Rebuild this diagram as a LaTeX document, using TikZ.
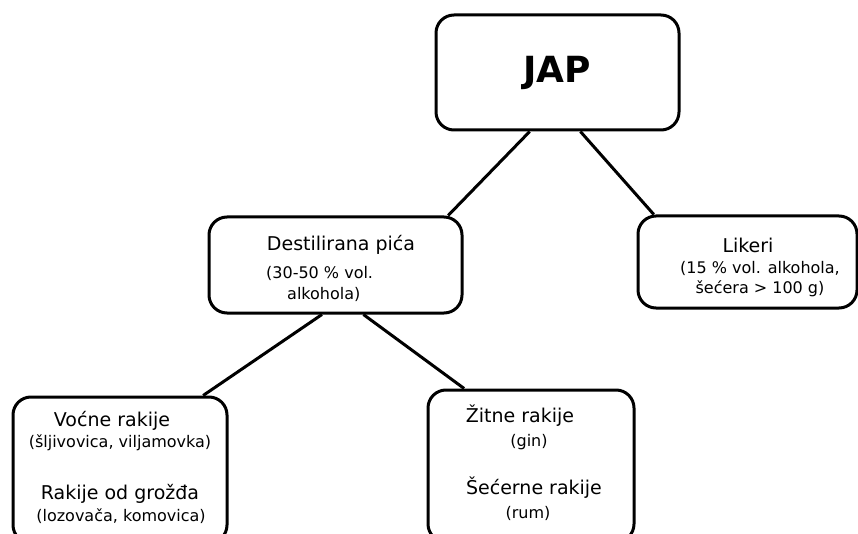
\documentclass[tikz,border=0pt]{standalone}
\usepackage{fontspec}
\setmainfont{DejaVu Sans}
\usetikzlibrary{calc}
\tikzset{
  box/.style={draw, line width=3pt, rounded corners=18pt, minimum width=#1, inner sep=0pt},
  maintxt/.style={font=\fontsize{19}{22}\selectfont, inner sep=0pt},
  subtxt/.style={font=\fontsize{16}{19}\selectfont, inner sep=0pt},
  link/.style={line width=3pt}
}
\begin{document}
\begin{tikzpicture}[x=1pt,y=-1pt]
\useasboundingbox (0,0) rectangle (858,534);
\clip (0,0) rectangle (858,534);
% boxes
\node[box=243pt, minimum height=115pt] (jap) at (557.5,72.5) {};
\node[box=253pt, minimum height=96pt] (dest) at (335.5,265) {};
\node[box=219pt, minimum height=92pt] (lik) at (747.5,262) {};
\node[box=214pt, minimum height=146pt] (voc) at (120,470) {};
\node[box=206pt, minimum height=152pt] (zit) at (531,466) {};
% texts
\node[inner sep=0pt, font=\fontsize{36}{40}\selectfont\bfseries] (japt) at (557,73) {JAP};
\node[maintxt] (destt) at (341,245) {Destilirana pića};
\node[subtxt, anchor=west] (dest2) at (266,273) {(30-50 \% vol.};
\node[subtxt, anchor=west] (dest3) at (287,294) {alkohola)};
\node[maintxt] (likt) at (748,245) {Likeri};
\node[subtxt] (lik2) at (760,268) {(15 \% vol. alkohola,};
\node[subtxt] (lik3) at (760,289) {šećera > 100 g)};
\node[maintxt] (voct) at (112,421) {Voćne rakije};
\node[subtxt] (voc2) at (120,443) {(šljivovica, viljamovka)};
\node[maintxt] (voc3) at (120,494) {Rakije od grožđa};
\node[subtxt] (voc4) at (121,516) {(lozovača, komovica)};
\node[maintxt] (zitt) at (520,416) {Žitne rakije};
\node[subtxt] (zit2) at (529,442) {(gin)};
\node[maintxt] (zit3) at (534,488) {Šećerne rakije};
\node[subtxt] (zit4) at (528,513) {(rum)};
% connectors
\draw[link] ($(jap.south west)!0.387!(jap.south east)$) -- ($(dest.north west)!0.94!(dest.north east)$);
\draw[link] ($(jap.south west)!0.593!(jap.south east)$) -- ($(lik.north west)!0.078!(lik.north east)$);
\draw[link] ($(dest.south west)!0.447!(dest.south east)$) -- ($(voc.north west)!0.883!(voc.north east)$);
\draw[link] ($(dest.south west)!0.609!(dest.south east)$) -- ($(zit.north west)!0.18!(zit.north east)$);
\end{tikzpicture}
\end{document}
